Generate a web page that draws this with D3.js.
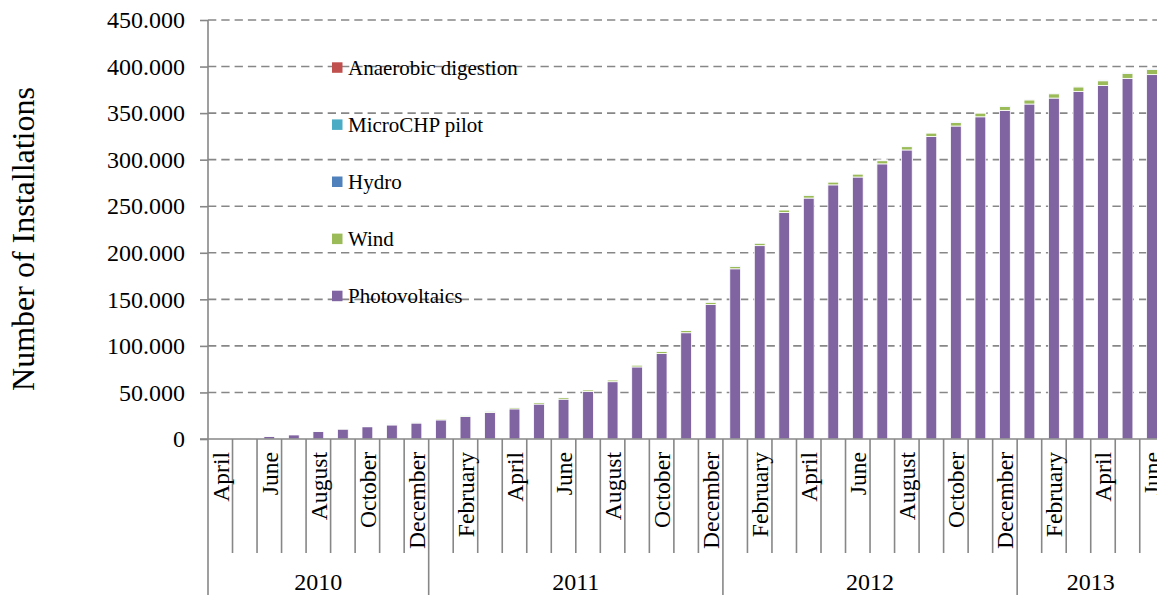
<!DOCTYPE html>
<html>
<head>
<meta charset="utf-8">
<script src="https://cdn.jsdelivr.net/npm/d3@7"></script>
<style>
  body { margin: 0; background: #fff; }
  text { font-family: "Liberation Serif", "Times New Roman", serif; fill: #000; }
</style>
</head>
<body>
<script>
// months from April 2010 to June 2013
const months = ["April","May","June","July","August","September","October","November","December",
  "January","February","March","April","May","June","July","August","September","October","November","December",
  "January","February","March","April","May","June","July","August","September","October","November","December",
  "January","February","March","April","May","June"]
const years = ["2010","2011","2012","2013"]
const yearLengths = [9, 12, 12, 6]

const photovoltaics = [245,1040,2970,4510,8030,10650,13180,15110,17150,
  20500,24150,28500,32360,37530,42790,50960,61530,77410,91770,114130,144470,
  182800,207660,243210,258770,272930,281360,295490,310430,324940,336140,346040,352950,
  359760,366160,373350,379730,387310,391340]
const wind = [40,120,250,380,520,660,800,930,1060,
  1180,1300,1420,1530,1640,1750,1860,1960,2060,2180,2300,2450,
  2600,2720,2850,2980,3100,3250,3400,3550,3720,3900,4080,4250,
  4420,4600,4800,5000,5200,5450]
const hydro = [10,25,40,55,70,85,95,110,120,
  130,145,155,165,175,190,200,210,220,235,245,255,
  265,275,285,295,305,315,325,335,345,355,370,380,
  390,400,410,420,430,440]
const microCHP = [5,15,35,55,80,100,125,150,170,
  190,205,220,235,250,262,275,285,295,300,305,310,
  315,320,325,330,335,340,345,350,355,360,365,370,
  375,380,385,390,395,400]
const anaerobic = [0,0,1,1,2,2,3,3,4,
  4,5,6,7,8,9,10,12,13,15,17,19,
  21,23,26,28,30,33,36,39,42,45,48,51,
  54,57,60,63,66,70]

const seriesKeys = ["pv","wind","hydro","chp","ad"]
const seriesNames = {pv:"Photovoltaics", wind:"Wind", hydro:"Hydro", chp:"MicroCHP pilot", ad:"Anaerobic digestion"}
const seriesColors = {pv:"#8064A2", wind:"#9BBB59", hydro:"#4F81BD", chp:"#4BACC6", ad:"#C0504D"}
const legendOrder = ["ad","chp","hydro","wind","pv"]
const yTicks = [0,50000,100000,150000,200000,250000,300000,350000,400000,450000]

const table = months.map((m,i)=>({i:i, pv:photovoltaics[i], wind:wind[i], hydro:hydro[i], chp:microCHP[i], ad:anaerobic[i]}))

const W = 1157, H = 595
const left = 208, step = 24.52
const axisColor = "#878787"

const svg = d3.select("body").append("svg")
              .attr("width", W)
              .attr("height", H)

const x = d3.scaleBand()
            .domain(d3.range(months.length))
            .range([left, left + step*months.length])
            .paddingInner(0.56)
            .paddingOuter(0.28)

const y = d3.scaleLinear()
            .domain([0, 450000])
            .range([439, 20])

// dashed gridlines
svg.append("g").selectAll("line")
   .data(yTicks.filter(t=>t>0))
   .enter()
   .append("line")
   .attr("x1", left).attr("x2", W)
   .attr("y1", d=>y(d)).attr("y2", d=>y(d))
   .attr("stroke", axisColor)
   .attr("stroke-width", 1.6)
   .attr("stroke-dasharray", "8.3,5")

// y axis ticks and labels
const yAxis = svg.append("g")
   .attr("transform", "translate("+left+",0)")
   .call(d3.axisLeft(y).tickValues(yTicks).tickSize(8).tickPadding(15)
          .tickFormat(d=> d3.format(",")(d).replace(/,/g, ".")))
yAxis.select(".domain").remove()
yAxis.selectAll("line").attr("stroke", axisColor).attr("stroke-width", 1.6)
yAxis.selectAll("text").style("font-size", "24px").style("font-family", "Liberation Serif, serif")

// stacked bars
const stacked = d3.stack().keys(seriesKeys)(table)
svg.append("g").selectAll("g")
   .data(stacked)
   .enter()
   .append("g")
   .attr("fill", s=>seriesColors[s.key])
   .selectAll("rect")
   .data(s=>s)
   .enter()
   .append("rect")
   .attr("x", d=>x(d.data.i))
   .attr("width", x.bandwidth())
   .attr("y", d=>y(d[1]))
   .attr("height", d=>y(d[0]) - y(d[1]))
   .attr("stroke", "#ffffff")
   .attr("stroke-width", 0.8)

// baseline and vertical axis
svg.append("line")
   .attr("x1", 200).attr("x2", W)
   .attr("y1", y(0)).attr("y2", y(0))
   .attr("stroke", axisColor).attr("stroke-width", 1.6)
svg.append("line")
   .attr("x1", left).attr("x2", left)
   .attr("y1", y(450000)).attr("y2", H)
   .attr("stroke", axisColor).attr("stroke-width", 1.6)

// category separators: month ticks short, year boundaries long
let yearStarts = []
let acc = 0
yearLengths.forEach(n=>{ yearStarts.push(acc); acc += n })
svg.append("g").selectAll("line")
   .data(d3.range(1, months.length))
   .enter()
   .append("line")
   .attr("x1", i=>left + i*step).attr("x2", i=>left + i*step)
   .attr("y1", y(0))
   .attr("y2", i=> yearStarts.includes(i) ? H : 553)
   .attr("stroke", axisColor).attr("stroke-width", 1.6)

// month labels, every other month
svg.append("g").selectAll("text")
   .data(d3.range(0, months.length, 2))
   .enter()
   .append("text")
   .attr("transform", i=>"translate("+(x(i) + x.bandwidth()/2)+",452) rotate(-90)")
   .attr("text-anchor", "end")
   .attr("dy", "0.35em")
   .style("font-size", "23.6px")
   .text(i=>months[i])

// year labels
svg.append("g").selectAll("text")
   .data(years)
   .enter()
   .append("text")
   .attr("x", (yr,k)=>left + (yearStarts[k] + yearLengths[k]/2)*step)
   .attr("y", 590)
   .attr("text-anchor", "middle")
   .style("font-size", "24px")
   .text(yr=>yr)

// y axis title
svg.append("text")
   .attr("transform", "translate(34,239) rotate(-90)")
   .attr("text-anchor", "middle")
   .style("font-size", "32px")
   .text("Number of Installations")

// legend
const legend = svg.append("g").selectAll("g")
   .data(legendOrder)
   .enter()
   .append("g")
   .attr("transform", (k,i)=>"translate(332,"+(67.5 + i*57.1)+")")
legend.append("rect")
   .attr("x", 0).attr("y", -5.2)
   .attr("width", 10.5).attr("height", 10.5)
   .attr("fill", k=>seriesColors[k])
legend.append("text")
   .attr("x", 16)
   .attr("dy", "0.35em")
   .style("font-size", "21px")
   .text(k=>seriesNames[k])
</script>
</body>
</html>
